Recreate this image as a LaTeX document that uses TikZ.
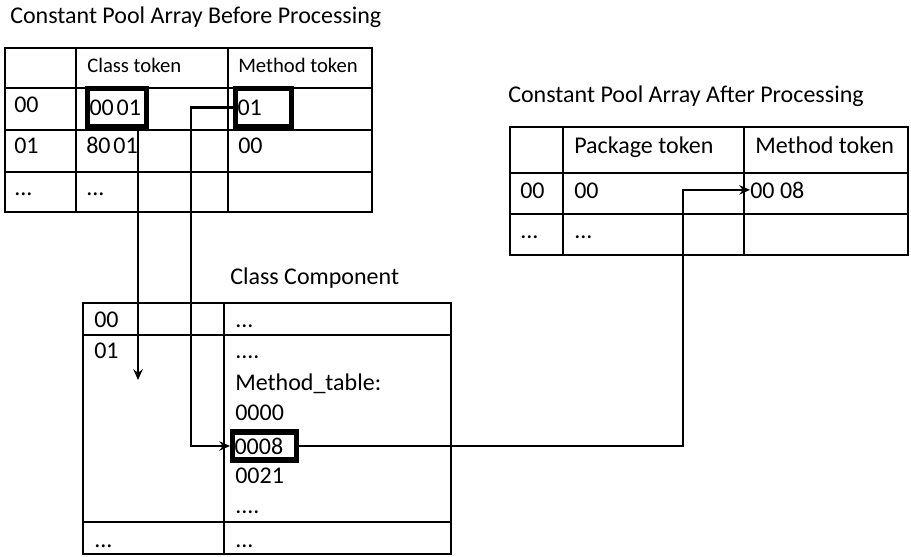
\documentclass[tikz,border=0pt]{standalone}
\usepackage{fontspec}
\setmainfont{Carlito}
\usetikzlibrary{arrows.meta,positioning,calc}

\begin{document}
\begin{tikzpicture}[
  x=0.75pt, y=-0.75pt,
  grid/.style={draw, line width=1pt},
  cell/.style={anchor=base west, inner sep=0pt, font=\fontsize{18}{21}\selectfont},
  small/.style={cell, font=\fontsize{15.5}{18}\selectfont},
  hl/.style={draw, line width=3.8pt, inner xsep=1.5pt, inner ysep=0pt, align=left},
  arr/.style={-{Stealth[length=8pt,width=7pt]}, line width=1.8pt}
]
  \useasboundingbox (0,0) rectangle (911,557);

  % titles
  \node[cell] (t1) at (10,23) {Constant Pool Array Before Processing};
  \node[cell] (t2) at (508,102) {Constant Pool Array After Processing};
  \node[cell] (t3) at (230,284) {Class Component};

  % before processing
  \draw[grid] (5,48) rectangle (372,212);
  \foreach \x in {76,228} \draw[grid] (\x,48) -- (\x,212);
  \foreach \y in {88,130,172} \draw[grid] (5,\y) -- (372,\y);
  \node[small] (a1) at (87,72) {Class token};
  \node[small] (a2) at (238,72) {Method token};
  \node[cell] (a3) at (14,112) {00};
  \node[cell] (a4) at (14,153) {01};
  \node[cell] (a5) at (86,153) {80\hspace{0.12em}01};
  \node[cell] (a6) at (238,153) {00};
  \node[cell] (a7) at (14,195) {...};
  \node[cell] (a8) at (86,195) {...};
  \node[cell, hl, anchor=west, text width=41pt, minimum height=28pt] (cls) at (85,107.5) {00\hspace{0.12em}01};
  \node[cell, hl, anchor=west, text width=39pt, minimum height=28pt] (mth) at (233,107.5) {01};

  % after processing
  \draw[grid] (510,127) rectangle (908,255);
  \foreach \x in {563,744} \draw[grid] (\x,127) -- (\x,255);
  \foreach \y in {173,214} \draw[grid] (510,\y) -- (908,\y);
  \node[cell] (b1) at (574,153) {Package token};
  \node[cell] (b2) at (755,153) {Method token};
  \node[cell] (b3) at (520,198) {00};
  \node[cell] (b4) at (574,198) {00};
  \node[cell] (pt8) at (750,198) {00 08};
  \node[cell] (b5) at (520,238) {...};
  \node[cell] (b6) at (574,238) {...};

  % class component
  \draw[grid] (83,303) rectangle (451,554);
  \draw[grid] (224,303) -- (224,554);
  \foreach \y in {335,522} \draw[grid] (83,\y) -- (451,\y);
  \node[cell] (c1) at (94,327) {00};
  \node[cell] (c2) at (94,358) {01};
  \node[cell] (c3) at (94,547) {...};
  \node[cell] (d1) at (235,327) {...};
  \node[cell] (d2) at (235,358) {....};
  \node[cell] (d3) at (235,390) {Method\_table:};
  \node[cell] (d4) at (235,420) {0000};
  \node[cell, hl, anchor=west, text width=45pt, minimum height=21pt] (m8) at (230,446) {0008};
  \node[cell] (d5) at (235,483) {0021};
  \node[cell] (d6) at (235,513) {....};
  \node[cell] (d7) at (235,547) {...};

  % connectors
  \coordinate (drop) at (138,380);
  \coordinate (turn) at (683,0);
  \draw[arr] (cls.south -| drop) -- (drop);
  \draw[arr] (mth.west) -- ++(-42,0) |- (m8.west);
  \draw[arr] (m8.east) -| (turn |- pt8.west) -- (pt8.west);
\end{tikzpicture}
\end{document}
